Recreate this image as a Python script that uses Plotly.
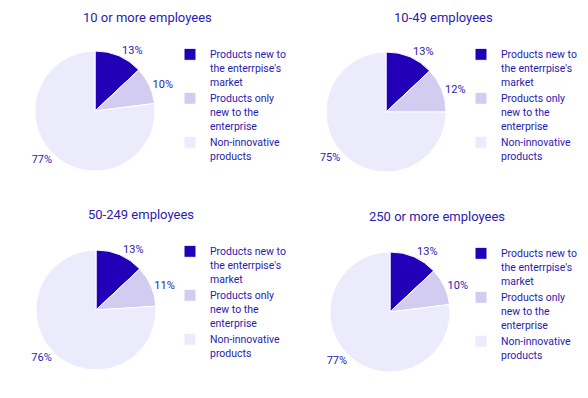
import plotly.graph_objects as go

titles = ["10 or more employees", "10-49 employees", "50-249 employees", "250 or more employees"]
labels = ["Products new to<br>the enterrpise's<br>market",
          "Products only<br>new to the<br>enterprise",
          "Non-innovative<br>products"]
values_10plus = [13, 10, 77]
values_10_49 = [13, 12, 75]
values_50_249 = [13, 11, 76]
values_250plus = [13, 10, 77]
all_values = [values_10plus, values_10_49, values_50_249, values_250plus]

colors = ["#2200b8", "#d2cdf0", "#ecebfc"]
txt = "#2a1cae"
W, H = 588, 398

# pixel centers and radius of each pie
centers = [(95, 111), (386, 112), (96, 310), (390, 312)]
R = 60
legend_pos = [(170, 41), (461, 41), (170, 238), (461, 240)]
title_pos = [(147, 18), (443, 18), (141, 215), (437, 216)]

fig = go.Figure()
for i, vals in enumerate(all_values):
    cx, cy = centers[i]
    # zero-width suffix keeps each chart's legend entries distinct
    lab = [l + "\u200b" * i for l in labels]
    fig.add_trace(go.Pie(
        labels=lab, values=vals, sort=False, direction="clockwise", rotation=0,
        marker=dict(colors=colors, line=dict(color="white", width=1)),
        textposition="outside", texttemplate="%{value}%",
        textfont=dict(size=11, color=txt, family="Roboto"),
        domain=dict(x=[(cx - R) / W, (cx + R) / W], y=[1 - (cy + R) / H, 1 - (cy - R) / H]),
        legend="legend" if i == 0 else f"legend{i+1}",
        hoverinfo="label+percent",
    ))

legends = {}
for i, (lx, ly) in enumerate(legend_pos):
    key = "legend" if i == 0 else f"legend{i+1}"
    legends[key] = dict(x=lx / W, y=1 - ly / H, xanchor="left", yanchor="top",
                        font=dict(size=10.5, color=txt, family="Roboto"),
                        bgcolor="rgba(0,0,0,0)", itemwidth=30, valign="top")

annotations = []
for t, (tx, ty) in zip(titles, title_pos):
    annotations.append(dict(text=t, x=tx / W, y=1 - ty / H, xref="paper", yref="paper",
                            showarrow=False, xanchor="center", yanchor="middle",
                            font=dict(size=13, color=txt, family="Roboto")))

fig.update_layout(width=W, height=H, margin=dict(l=0, r=0, t=0, b=0),
                  paper_bgcolor="white", plot_bgcolor="white",
                  annotations=annotations, showlegend=True, **legends)
fig.write_html("out.html", config={"displayModeBar": False},
               post_script="document.body.style.margin='0';")
